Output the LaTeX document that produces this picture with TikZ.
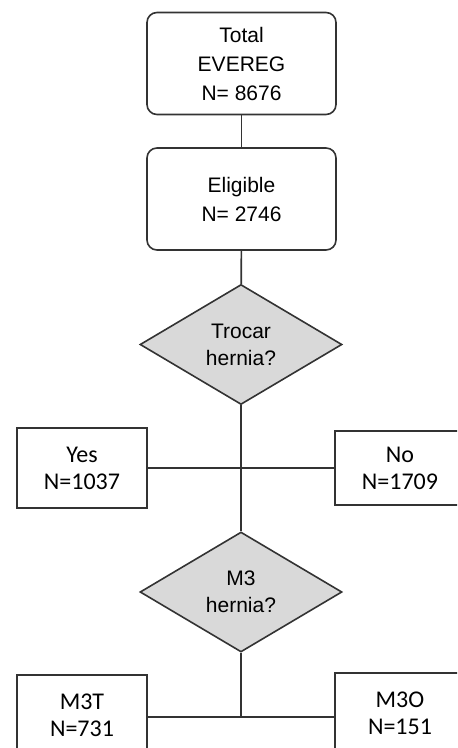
\documentclass[tikz,border=0pt]{standalone}
\usepackage{fontspec}
\setmainfont{Liberation Sans}
\newfontfamily\calib{Carlito}
\usetikzlibrary{shapes.geometric}
\tikzset{
  rbox/.style={draw, rounded corners=5pt, minimum width=94.5pt, minimum height=51pt,
    align=center, font=\fontsize{10.5}{14.5}\selectfont},
  qbox/.style={draw, diamond, fill=gray!30, inner sep=0pt, aspect=1.7,
    minimum width=101pt, minimum height=60pt, align=center,
    font=\fontsize{10.5}{13.5}\selectfont},
  nbox/.style={draw, minimum width=65pt, minimum height=40pt, align=center,
    font=\calib\fontsize{12}{13.5}\selectfont}
}
\begin{document}
\begin{tikzpicture}[x=0.5pt, y=-0.5pt, line width=0.8pt, draw=black!80]
      \useasboundingbox (0,0) rectangle (457,748);
      \clip (0,0) rectangle (457,748);
      \draw
        (241.5,63.5) node[rbox] (0){Total\\EVEREG\\N= 8676}
        (241.5,199) node[rbox] (1){Eligible\\N= 2746}
        (241,344.5) node[qbox] (2){Trocar\\hernia?}
        (241,592) node[qbox] (3){M3\\hernia?}
        (82,468) node[nbox] (4){Yes\\N=1037}
        (400,468) node[nbox, minimum height=37pt] (5){No\\N=1709}
        (82,715) node[nbox] (6){M3T\\N=731}
        (400,713) node[nbox] (7){M3O\\N=151};
      \coordinate (j) at (241,717);
      \begin{scope}[-]
        \draw (0) to (1);
        \draw (1) to (2);
        \draw (2) to (3);
        \draw (4) to (5);
        \draw (3) to (j);
        \draw (6.east |- j) to (7.west |- j);
      \end{scope}
    \end{tikzpicture}
\end{document}
